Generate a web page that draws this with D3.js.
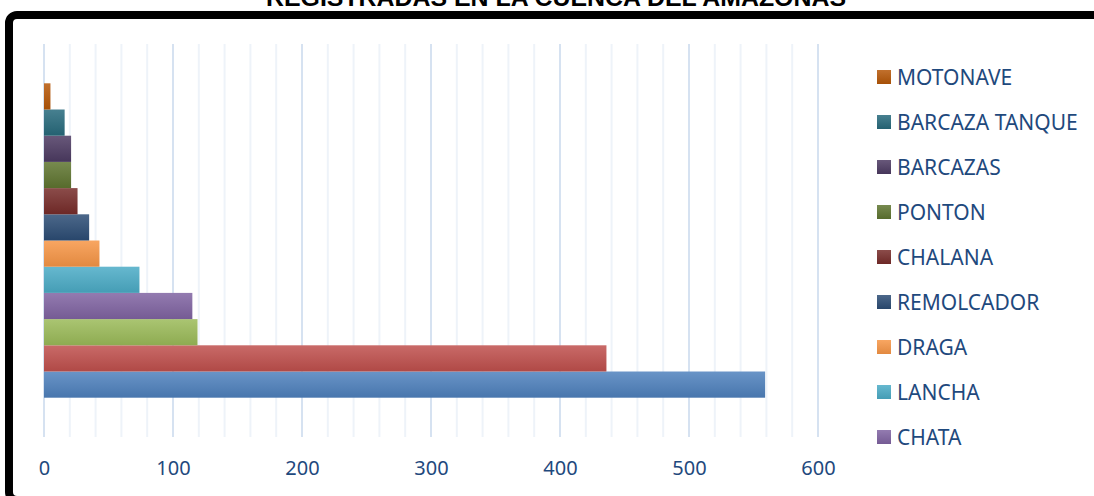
<!DOCTYPE html>
<html>
<head>
<meta charset="utf-8">
<script src="https://cdn.jsdelivr.net/npm/d3@7"></script>
<style>
  body { margin: 0; background: #fff; }
  svg { display: block; }
</style>
</head>
<body>
<svg id="chart" width="1094" height="496"></svg>
<script>
// series, bottom bar first (Excel draws series 1 at the bottom)
const seriesNames = ["", "", "", "CHATA", "LANCHA", "DRAGA", "REMOLCADOR", "CHALANA", "PONTON", "BARCAZAS", "BARCAZA TANQUE", "MOTONAVE"];
const seriesValues = [559, 436, 119, 115, 74, 43, 35, 26, 21, 21, 16, 5];
const seriesColors = ["#4F81BD", "#C0504D", "#9BBB59", "#8064A2", "#4BACC6", "#F79646",
                      "#2C4D75", "#772C2A", "#5F7530", "#4D3B62", "#276A7C", "#B65708"];
const xTicks = [0, 100, 200, 300, 400, 500, 600];
const titleText = "REGISTRADAS EN LA CUENCA DEL AMAZONAS";

class BarChart {
  constructor(_config) {
    this.config = {
      parentElement: _config.parentElement,
      left: 44, right: 818, top: 44, bottom: 437
    };
    this.initVis();
  }

  initVis() {
    let vis = this;
    vis.svg = d3.select(vis.config.parentElement);

    // gradients, lighter on top like the office bars
    let defs = vis.svg.append("defs");
    seriesColors.forEach((c, i) => {
      let g = defs.append("linearGradient")
        .attr("id", "grad" + i)
        .attr("x1", 0).attr("y1", 0).attr("x2", 0).attr("y2", 1);
      g.append("stop").attr("offset", "0%").attr("stop-color", d3.interpolateRgb(c, "#fff")(0.15));
      g.append("stop").attr("offset", "100%").attr("stop-color", d3.color(c).darker(0.25));
    });

    vis.x = d3.scaleLinear().domain([0, 600]).range([vis.config.left, vis.config.right]);
    vis.y = d3.scaleBand()
      .domain(d3.range(seriesValues.length))
      .range([vis.config.bottom, vis.config.top])
      .paddingInner(0)
      .paddingOuter(1.5);

    // title, mostly cut off at the top
    vis.svg.append("text")
      .attr("x", 556).attr("y", 6)
      .attr("text-anchor", "middle")
      .attr("font-family", "'Liberation Sans Narrow', 'Liberation Sans', Arial, sans-serif")
      .attr("font-weight", "bold")
      .attr("font-size", 24)
      .attr("textLength", 580)
      .attr("lengthAdjust", "spacingAndGlyphs")
      .text(titleText);

    // frame, bottom edge falls just below the picture
    vis.svg.append("rect")
      .attr("x", 9).attr("y", 15)
      .attr("width", 1200).attr("height", 485)
      .attr("rx", 8)
      .attr("fill", "#fff")
      .attr("stroke", "#000")
      .attr("stroke-width", 8);

    // gridlines
    let minor = d3.range(0, 601, 20).filter(d => d % 100 !== 0);
    vis.svg.append("g").selectAll("line")
      .data(minor)
      .join("line")
      .attr("x1", d => vis.x(d)).attr("x2", d => vis.x(d))
      .attr("y1", vis.config.top).attr("y2", vis.config.bottom)
      .attr("stroke", "#EEF3F9")
      .attr("stroke-width", 2);
    vis.svg.append("g").selectAll("line")
      .data(xTicks)
      .join("line")
      .attr("x1", d => vis.x(d)).attr("x2", d => vis.x(d))
      .attr("y1", vis.config.top).attr("y2", vis.config.bottom)
      .attr("stroke", "#D6E2F1")
      .attr("stroke-width", 2);

    vis.updateVis();
  }

  updateVis() {
    let vis = this;

    vis.svg.append("g").selectAll("rect")
      .data(seriesValues)
      .join("rect")
      .attr("x", vis.x(0))
      .attr("y", (d, i) => vis.y(i))
      .attr("width", d => vis.x(d) - vis.x(0))
      .attr("height", vis.y.bandwidth())
      .attr("fill", (d, i) => "url(#grad" + i + ")");

    // x axis labels
    let axis = vis.svg.append("g")
      .attr("transform", `translate(0,${vis.config.bottom})`)
      .call(d3.axisBottom(vis.x).tickValues(xTicks).tickSize(0).tickPadding(38));
    axis.select(".domain").remove();
    axis.selectAll("text")
      .attr("dy", 0)
      .attr("font-family", "'Noto Sans', sans-serif")
      .attr("font-size", 20)
      .attr("fill", "#1F497D");

    // legend, reversed order, clipped like the reference
    let legendItems = seriesNames
      .map((n, i) => ({ name: n, i: i }))
      .filter(d => d.name !== "")
      .reverse();
    let legend = vis.svg.append("g")
      .selectAll("g")
      .data(legendItems)
      .join("g")
      .attr("transform", (d, k) => `translate(877,${70 + k * 45})`);
    legend.append("rect")
      .attr("width", 14).attr("height", 14)
      .attr("fill", d => "url(#grad" + d.i + ")");
    legend.append("text")
      .attr("x", 20).attr("y", 14.5)
      .attr("font-family", "'Noto Sans', sans-serif")
      .attr("font-size", 21)
      .attr("fill", "#1F497D")
      .text(d => d.name);
  }
}

new BarChart({ parentElement: "#chart" });
</script>
</body>
</html>
